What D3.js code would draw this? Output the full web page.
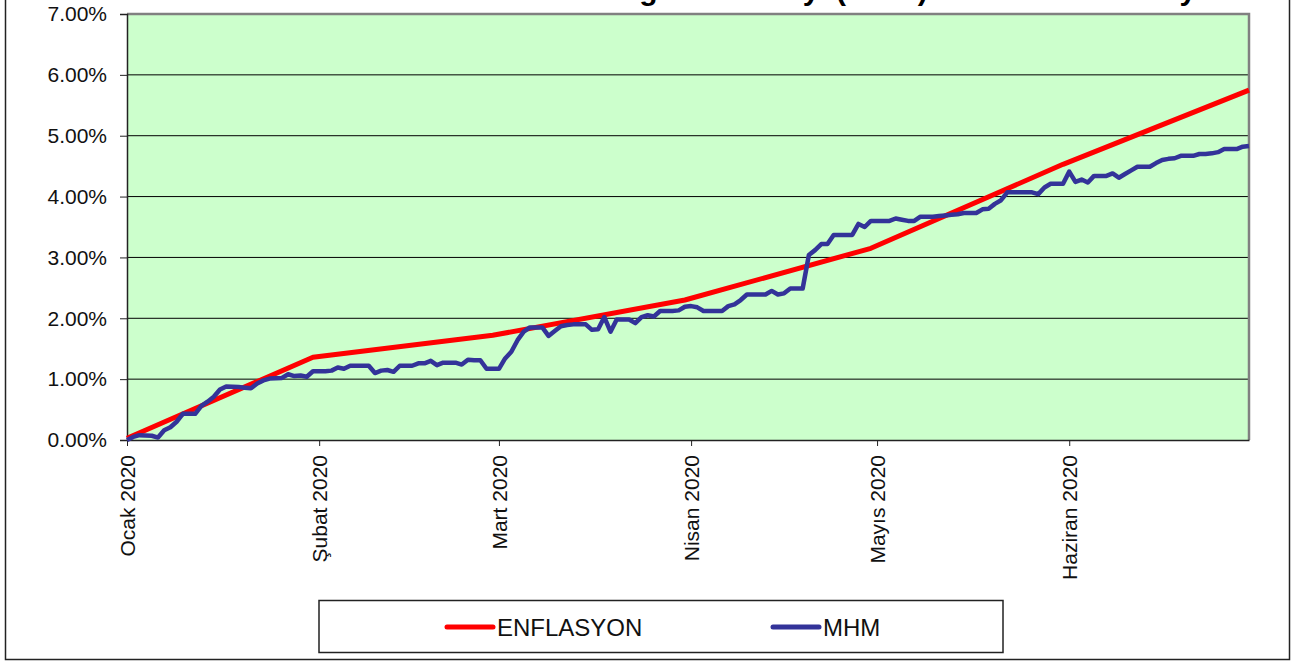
<!DOCTYPE html>
<html>
<head>
<meta charset="utf-8">
<script src="https://cdn.jsdelivr.net/npm/d3@7"></script>
<style>
    body { margin: 0; background: #fff; }
    svg { display: block; font-family: "Liberation Sans", Arial, sans-serif; }
</style>
</head>
<body>
<div class="container"></div>
<script>
var MONTH_TICKS = ["2020-01-01", "2020-02-01", "2020-03-01", "2020-04-01", "2020-05-01", "2020-06-01"];
var MONTH_LABELS = ["Ocak 2020", "Şubat 2020", "Mart 2020", "Nisan 2020", "Mayıs 2020", "Haziran 2020"];
var Y_TICKS = [0, 1, 2, 3, 4, 5, 6, 7];
var SERIES_NAMES = ["ENFLASYON", "MHM"];

// cumulative inflation, read at month ends
var ENF_DATES = ["2020-01-01", "2020-01-31", "2020-02-29", "2020-03-31", "2020-04-30", "2020-05-31", "2020-06-30"];
var ENF_VALUES = [0.03, 1.36, 1.72, 2.30, 3.15, 4.53, 5.75];

// fund return
var MHM_DATES = [
    "2020-01-01", "2020-01-02", "2020-01-03", "2020-01-05", "2020-01-06", "2020-01-07", "2020-01-08", "2020-01-09",
    "2020-01-10", "2020-01-12", "2020-01-13", "2020-01-14", "2020-01-15", "2020-01-16", "2020-01-17", "2020-01-19",
    "2020-01-20", "2020-01-21", "2020-01-22", "2020-01-23", "2020-01-24", "2020-01-26", "2020-01-27", "2020-01-28",
    "2020-01-29", "2020-01-30", "2020-01-31", "2020-02-02", "2020-02-03", "2020-02-04", "2020-02-05", "2020-02-06",
    "2020-02-07", "2020-02-09", "2020-02-10", "2020-02-11", "2020-02-12", "2020-02-13", "2020-02-14", "2020-02-16",
    "2020-02-17", "2020-02-18", "2020-02-19", "2020-02-20", "2020-02-21", "2020-02-23", "2020-02-24", "2020-02-25",
    "2020-02-26", "2020-02-27", "2020-02-28", "2020-03-01", "2020-03-02", "2020-03-03", "2020-03-04", "2020-03-05",
    "2020-03-06", "2020-03-08", "2020-03-09", "2020-03-10", "2020-03-11", "2020-03-12", "2020-03-13", "2020-03-15",
    "2020-03-16", "2020-03-17", "2020-03-18", "2020-03-19", "2020-03-20", "2020-03-22", "2020-03-23", "2020-03-24",
    "2020-03-25", "2020-03-26", "2020-03-27", "2020-03-29", "2020-03-30", "2020-03-31", "2020-04-01", "2020-04-02",
    "2020-04-03", "2020-04-05", "2020-04-06", "2020-04-07", "2020-04-08", "2020-04-09", "2020-04-10", "2020-04-12",
    "2020-04-13", "2020-04-14", "2020-04-15", "2020-04-16", "2020-04-17", "2020-04-19", "2020-04-20", "2020-04-21",
    "2020-04-22", "2020-04-23", "2020-04-24", "2020-04-26", "2020-04-27", "2020-04-28", "2020-04-29", "2020-04-30",
    "2020-05-03", "2020-05-04", "2020-05-05", "2020-05-06", "2020-05-07", "2020-05-08", "2020-05-10", "2020-05-11",
    "2020-05-12", "2020-05-13", "2020-05-14", "2020-05-15", "2020-05-17", "2020-05-18", "2020-05-19", "2020-05-20",
    "2020-05-21", "2020-05-22", "2020-05-26", "2020-05-27", "2020-05-28", "2020-05-29", "2020-05-31", "2020-06-01",
    "2020-06-02", "2020-06-03", "2020-06-04", "2020-06-05", "2020-06-07", "2020-06-08", "2020-06-09", "2020-06-10",
    "2020-06-11", "2020-06-12", "2020-06-14", "2020-06-15", "2020-06-16", "2020-06-17", "2020-06-18", "2020-06-19",
    "2020-06-21", "2020-06-22", "2020-06-23", "2020-06-24", "2020-06-25", "2020-06-26", "2020-06-28", "2020-06-29",
    "2020-06-30"
];
var MHM_VALUES = [
    0.00, 0.05, 0.08, 0.07, 0.04, 0.16, 0.21, 0.30,
    0.43, 0.43, 0.56, 0.63, 0.71, 0.83, 0.88, 0.87,
    0.86, 0.85, 0.93, 0.98, 1.01, 1.02, 1.08, 1.05,
    1.06, 1.04, 1.13, 1.13, 1.14, 1.19, 1.17, 1.22,
    1.22, 1.22, 1.10, 1.14, 1.15, 1.12, 1.22, 1.22,
    1.26, 1.26, 1.30, 1.23, 1.27, 1.27, 1.24, 1.32,
    1.31, 1.31, 1.17, 1.17, 1.34, 1.45, 1.64, 1.78,
    1.85, 1.85, 1.71, 1.79, 1.87, 1.89, 1.90, 1.90,
    1.81, 1.82, 2.02, 1.78, 1.98, 1.98, 1.92, 2.02,
    2.05, 2.03, 2.12, 2.12, 2.13, 2.19, 2.20, 2.18,
    2.12, 2.12, 2.12, 2.20, 2.23, 2.30, 2.39, 2.39,
    2.39, 2.45, 2.39, 2.41, 2.49, 2.49, 3.04, 3.12,
    3.22, 3.22, 3.37, 3.37, 3.37, 3.55, 3.50, 3.60,
    3.60, 3.64, 3.62, 3.60, 3.60, 3.67, 3.67, 3.68,
    3.69, 3.70, 3.71, 3.73, 3.73, 3.79, 3.80, 3.88,
    3.94, 4.07, 4.07, 4.04, 4.15, 4.21, 4.21, 4.41,
    4.24, 4.28, 4.23, 4.34, 4.34, 4.38, 4.31, 4.37,
    4.43, 4.49, 4.49, 4.55, 4.60, 4.62, 4.63, 4.67,
    4.67, 4.70, 4.70, 4.71, 4.73, 4.78, 4.78, 4.82,
    4.83
];

// title sits mostly above the visible area, only descenders show
var TITLE = "Hisse Senedi Yoğun Fon Payı (MHM) Getirisi ve Enflasyon Karşılaştırması";
var TITLE_PAREN_X = 836;

var WIDTH = 1295, HEIGHT = 664;
var PLOT = { left: 127, top: 14, right: 1249, bottom: 440 };
var COLORS = ["#ff0000", "#333399"];

document.addEventListener('DOMContentLoaded', function () {
    var parse = d3.utcParse("%Y-%m-%d");

    var svg = d3.select(".container")
        .append("svg")
        .attr("width", WIDTH)
        .attr("height", HEIGHT);

    svg.append("rect")
        .attr("width", WIDTH)
        .attr("height", HEIGHT)
        .attr("fill", "#fff");

    // outer frame (top edge is cut off)
    svg.append("rect")
        .attr("x", 5.5)
        .attr("y", -20)
        .attr("width", 1284)
        .attr("height", 679.5)
        .attr("fill", "none")
        .attr("stroke", "#222")
        .attr("stroke-width", 1.5);

    var title = svg.append("text")
        .attr("x", 0)
        .attr("y", 0)
        .attr("font-size", 30)
        .attr("font-weight", "bold")
        .text(TITLE);
    var parenOffset = title.node().getSubStringLength(0, TITLE.indexOf("("));
    title.attr("x", TITLE_PAREN_X - parenOffset);

    var x = d3.scaleUtc()
        .domain([parse("2020-01-01"), parse("2020-06-30")])
        .range([PLOT.left, PLOT.right]);

    var y = d3.scaleLinear()
        .domain([0, 7])
        .range([PLOT.bottom, PLOT.top]);

    svg.append("rect")
        .attr("x", PLOT.left)
        .attr("y", PLOT.top)
        .attr("width", PLOT.right - PLOT.left)
        .attr("height", PLOT.bottom - PLOT.top)
        .attr("fill", "#ccffcc");

    svg.append("g")
        .selectAll("line")
        .data(Y_TICKS.slice(1, -1))
        .enter()
        .append("line")
        .attr("x1", PLOT.left)
        .attr("x2", PLOT.right)
        .attr("y1", function (d) { return y(d); })
        .attr("y2", function (d) { return y(d); })
        .attr("stroke", "#000")
        .attr("stroke-width", 1);

    // plot border, grey on top and right
    svg.append("path")
        .attr("d", "M" + PLOT.left + "," + PLOT.top + "H" + PLOT.right + "V" + PLOT.bottom)
        .attr("fill", "none")
        .attr("stroke", "#808080")
        .attr("stroke-width", 2.5);

    var yAxis = svg.append("g")
        .attr("transform", "translate(" + PLOT.left + ",0)")
        .call(d3.axisLeft(y)
            .tickValues(Y_TICKS)
            .tickSize(7)
            .tickPadding(13)
            .tickFormat(function (d) { return d.toFixed(2) + "%"; }));
    yAxis.select(".domain").attr("stroke", "#222").attr("stroke-width", 1.5);
    yAxis.selectAll(".tick line").attr("stroke", "#222");
    yAxis.selectAll(".tick text")
        .attr("font-size", 21)
        .attr("font-family", "Liberation Sans, Arial, sans-serif")
        .attr("fill", "#111");

    var xAxis = svg.append("g")
        .attr("transform", "translate(0," + PLOT.bottom + ")")
        .call(d3.axisBottom(x)
            .tickValues(MONTH_TICKS.map(parse))
            .tickSize(6)
            .tickSizeOuter(0)
            .tickFormat(function (d, i) { return MONTH_LABELS[i]; }));
    xAxis.select(".domain").attr("stroke", "#222").attr("stroke-width", 1.5);
    xAxis.selectAll(".tick line").attr("stroke", "#222");
    xAxis.selectAll(".tick text")
        .attr("font-size", 21)
        .attr("font-family", "Liberation Sans, Arial, sans-serif")
        .attr("fill", "#111")
        .attr("text-anchor", "end")
        .attr("transform", "rotate(-90)")
        .attr("x", -15)
        .attr("y", 0)
        .attr("dy", "0.36em");

    var line = d3.line()
        .x(function (d) { return x(d.date); })
        .y(function (d) { return y(d.value); });

    var enf = ENF_DATES.map(function (d, i) {
        return { date: parse(d), value: ENF_VALUES[i] };
    });
    var mhm = MHM_DATES.map(function (d, i) {
        return { date: parse(d), value: MHM_VALUES[i] };
    });

    svg.append("path")
        .datum(enf)
        .attr("d", line)
        .attr("fill", "none")
        .attr("stroke", COLORS[0])
        .attr("stroke-width", 5)
        .attr("stroke-linejoin", "round");

    svg.append("path")
        .datum(mhm)
        .attr("d", line)
        .attr("fill", "none")
        .attr("stroke", COLORS[1])
        .attr("stroke-width", 4.5)
        .attr("stroke-linejoin", "round");

    // legend
    var legend = svg.append("g");
    legend.append("rect")
        .attr("x", 319)
        .attr("y", 600.5)
        .attr("width", 684)
        .attr("height", 52)
        .attr("fill", "#fff")
        .attr("stroke", "#222")
        .attr("stroke-width", 1.5);

    var legendElem = legend.selectAll("g")
        .data(SERIES_NAMES)
        .enter()
        .append("g")
        .attr("transform", function (d, i) {
            return "translate(" + (447 + i * 326) + ",627)";
        });

    legendElem.append("line")
        .attr("x1", 0)
        .attr("x2", 46)
        .attr("stroke", function (d, i) { return COLORS[i]; })
        .attr("stroke-width", 5)
        .attr("stroke-linecap", "round");

    legendElem.append("text")
        .attr("x", 50)
        .attr("y", 9)
        .attr("font-size", 24)
        .attr("fill", "#111")
        .text(function (d) { return d; });
});
</script>
</body>
</html>
